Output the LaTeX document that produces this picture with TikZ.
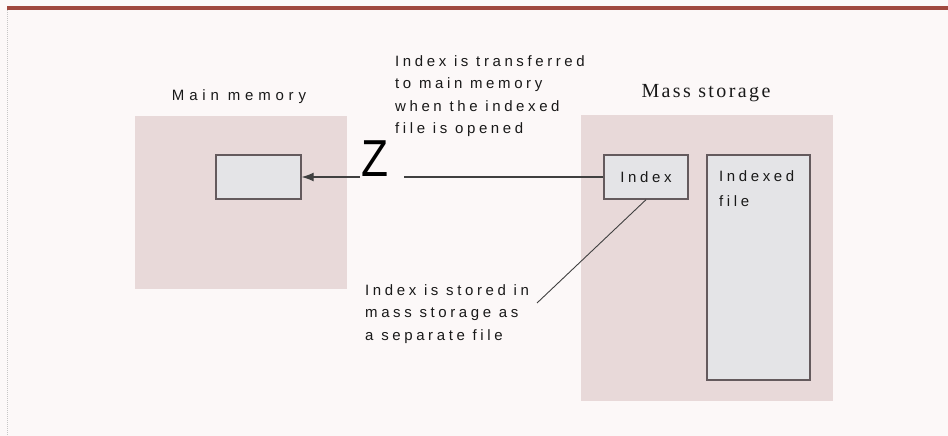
\documentclass[tikz,border=0pt]{standalone}
\usepackage{fontspec}
\setmainfont{Liberation Sans}
\newfontfamily\notefont[LetterSpace=24]{Liberation Sans}
\newfontfamily\widenotefont[LetterSpace=32]{Liberation Sans}
\newfontfamily\headfont[LetterSpace=12]{Liberation Serif}
\usetikzlibrary{arrows.meta}

\definecolor{pagebg}{RGB}{252,248,248}
\definecolor{storepink}{RGB}{232,217,217}
\definecolor{cellgray}{RGB}{228,228,231}
\definecolor{edgegray}{RGB}{100,90,93}
\definecolor{rulered}{RGB}{160,72,62}

\begin{document}
\begin{tikzpicture}[x=1pt,y=-1pt,
    area/.style={fill=storepink,draw=none,inner sep=0pt},
    cell/.style={fill=cellgray,draw=edgegray,line width=1.4pt,inner sep=0pt},
    note/.style={font=\notefont\fontsize{15}{22.4}\selectfont,align=left,inner sep=0pt,text=black!90},
    link/.style={draw=black!75,line width=1.1pt}]
  \useasboundingbox (0,0) rectangle (948,436);
  \fill[pagebg] (0,0) rectangle (948,436);
  \draw[rulered,line width=4pt] (7,8) -- (948,8);
  \draw[gray!45,densely dotted,line width=1pt] (7,10) -- (7,436);

  % storage areas
  \node[area,minimum width=212pt,minimum height=173pt] (mainmem) at (241,202.5) {};
  \node[area,minimum width=252pt,minimum height=286pt] (massstore) at (707,258) {};
  \node[note,font=\widenotefont\fontsize{15}{18}\selectfont] (mainlabel) at (239,97) {Main memory};
  \node[font=\headfont\fontsize{20}{22}\selectfont,inner sep=0pt,text=black!90] (masslabel) at (706,93) {Mass storage};

  % index and file blocks
  \node[cell,minimum width=85pt,minimum height=44pt] (memindex) at (258.5,177) {};
  \node[cell,minimum width=84pt,minimum height=44pt,note,align=center] (index) at (646,177) {Index};
  \node[cell,minimum width=103pt,minimum height=225pt] (idxfile) at (758.5,267.5) {};
  \node[note,anchor=north west,font=\notefont\fontsize{15}{25}\selectfont] (filetext) at (719,170.5) {Indexed\\file};

  % transfer
  \node[font=\fontsize{52}{52}\selectfont,xscale=0.85,inner sep=0pt] (zmark) at (375,159) {Z};
  \coordinate (leftend) at (360,177);
  \coordinate (rightend) at (404,177);
  \draw[link,-{Latex[length=12pt,width=9pt]}] (leftend) -- (memindex.east);
  \draw[link] (index.west) -- (rightend);

  % notes
  \node[note,anchor=north west] (transfernote) at (395,55.5) {Index is transferred\\to main memory\\when the indexed\\file is opened};
  \node[note,anchor=north west] (storenote) at (365,284.5) {Index is stored in\\mass storage as\\a separate file};
  \coordinate (storeend) at (537,303);
  \draw[link,line width=0.9pt] (index.south) -- (storeend);
\end{tikzpicture}
\end{document}
